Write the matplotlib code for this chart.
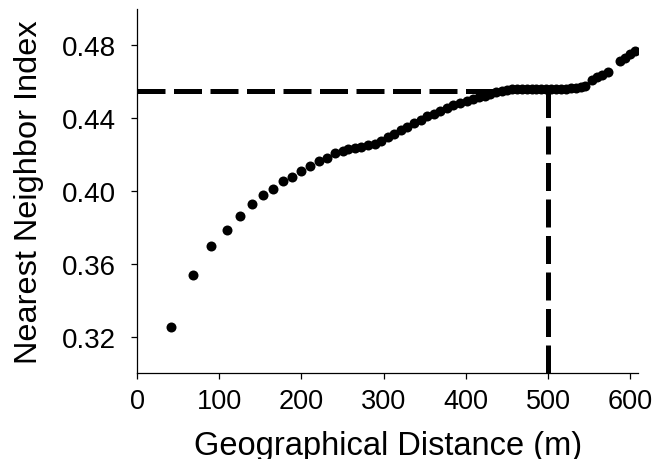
import matplotlib
matplotlib.use('Agg')
import matplotlib.pyplot as plt

# Data
distance_m = [41, 68, 90, 109, 125, 140, 153, 165, 178, 189, 200, 211, 222, 231,
              241, 251, 257, 265, 273, 281, 289, 297, 305, 313, 321, 329, 337,
              345, 353, 361, 369, 377, 385, 393, 401, 409, 416, 423, 430, 437,
              444, 450, 456, 462, 468, 474, 480, 486, 492, 498, 504, 510, 516,
              522, 528, 534, 540, 545, 553, 560, 566, 573, 588, 594, 600, 606]
nn_index = [0.3253, 0.3537, 0.3696, 0.3786, 0.3862, 0.3930, 0.3975, 0.4012,
            0.4054, 0.4078, 0.4111, 0.4134, 0.4164, 0.4182, 0.4206, 0.4221,
            0.4228, 0.4235, 0.4242, 0.4250, 0.4258, 0.4275, 0.4293, 0.4313,
            0.4333, 0.4351, 0.4370, 0.4390, 0.4408, 0.4424, 0.4440, 0.4455,
            0.4469, 0.4482, 0.4494, 0.4503, 0.4513, 0.4522, 0.4532, 0.4542,
            0.4550, 0.4554, 0.4557, 0.4559, 0.4560, 0.4560, 0.4559, 0.4558,
            0.4557, 0.4557, 0.4557, 0.4558, 0.4558, 0.4559, 0.4562, 0.4565,
            0.4568, 0.4575, 0.4610, 0.4625, 0.4638, 0.4650, 0.4712, 0.4730,
            0.4750, 0.4768]

threshold_x = 500
threshold_y = 0.455
x_ticks = [0, 100, 200, 300, 400, 500, 600]
y_ticks = [0.32, 0.36, 0.40, 0.44, 0.48]

plt.rcParams['font.family'] = ['Liberation Sans', 'DejaVu Sans']

fig = plt.figure(figsize=(6.67, 4.6), dpi=100)
ax = fig.add_axes([0.2054, 0.187, 0.7517, 0.792])

# reference dashed lines
ax.plot([0, threshold_x], [threshold_y, threshold_y], color='black', lw=3.6,
        dashes=(5.6, 1.7), dash_capstyle='butt', zorder=2)
ax.plot([threshold_x, threshold_x], [0.30, threshold_y], color='black', lw=3.6,
        dashes=(5.6, 1.7), dash_capstyle='butt', zorder=2)

ax.plot(distance_m, nn_index, 'o', color='black', ms=7.2, mew=0, zorder=3)

ax.set_xlim(0, 610)
ax.set_ylim(0.30, 0.50)
ax.set_xticks(x_ticks)
ax.set_yticks(y_ticks)
ax.set_yticklabels([f'{v:.2f}' for v in y_ticks])

for side in ['top', 'right']:
    ax.spines[side].set_visible(False)
for side in ['left', 'bottom']:
    ax.spines[side].set_linewidth(0.9)

ax.tick_params(axis='x', direction='out', length=4, width=0.9, labelsize=19.5, pad=7)
ax.tick_params(axis='y', direction='out', length=4, width=0.9, labelsize=20, pad=11)

ax.set_xlabel('Geographical Distance (m)', fontsize=23.5, labelpad=11)
ax.set_ylabel('Nearest Neighbor Index', fontsize=23.4, labelpad=13)

fig.savefig('out.png', dpi=100)
